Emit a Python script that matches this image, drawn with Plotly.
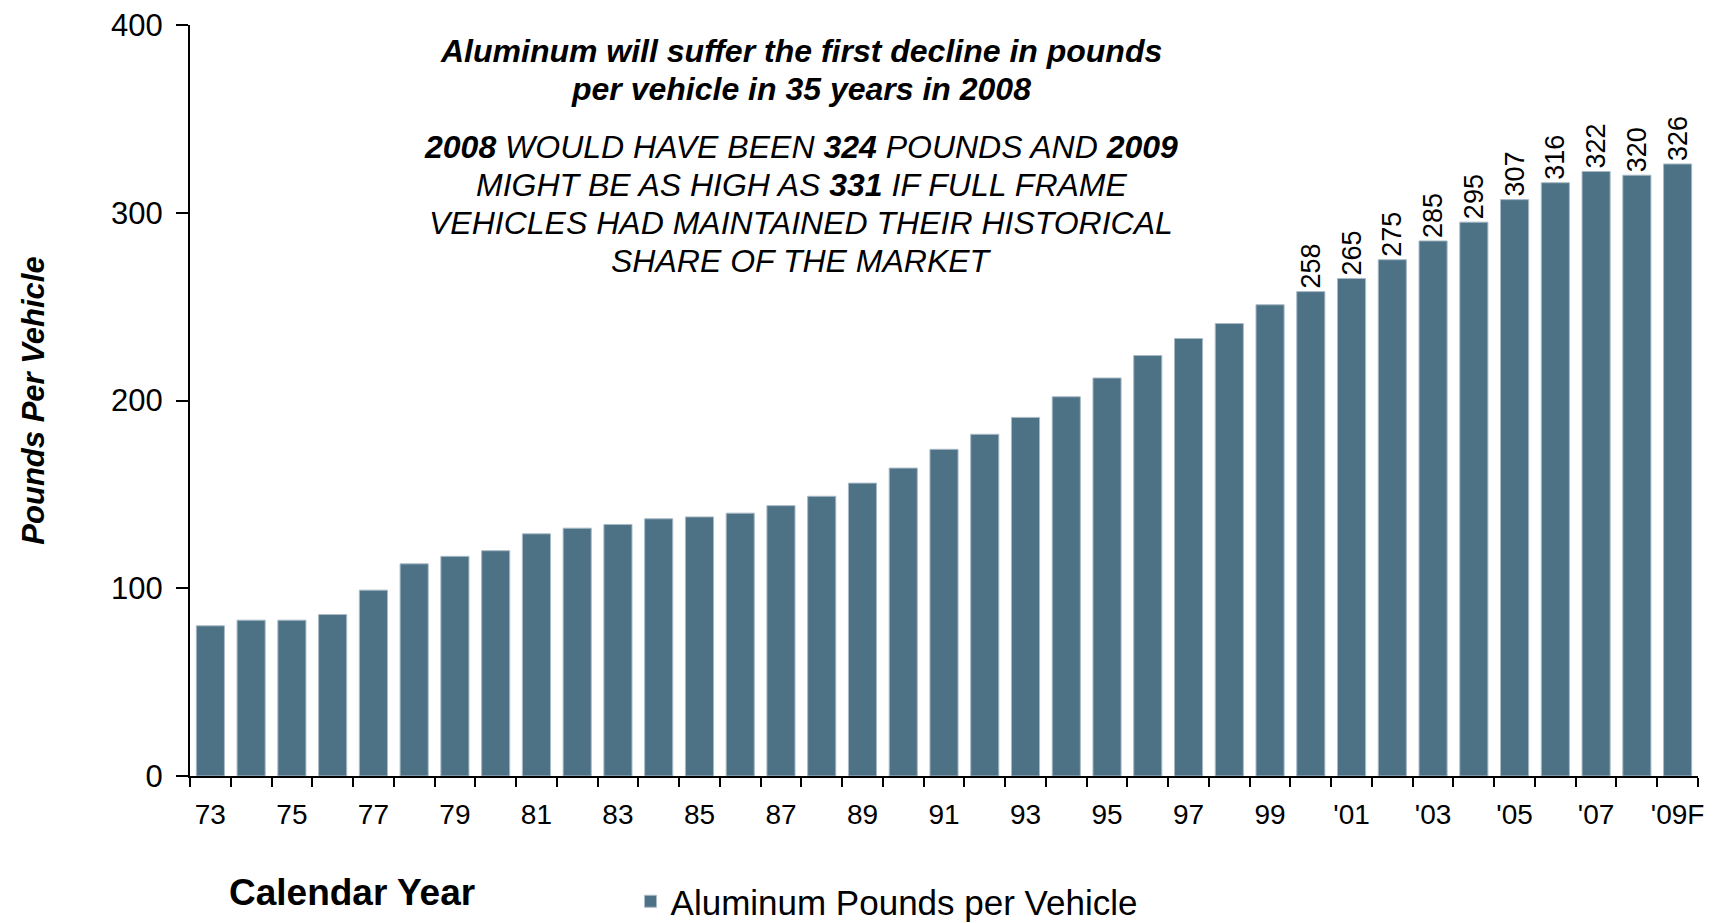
import plotly.graph_objects as go

# ---- data ----
years = ["73", "74", "75", "76", "77", "78", "79", "80", "81", "82",
         "83", "84", "85", "86", "87", "88", "89", "90", "91", "92",
         "93", "94", "95", "96", "97", "98", "99", "'00", "'01", "'02",
         "'03", "'04", "'05", "'06", "'07", "'08", "'09F"]
pounds = [80, 83, 83, 86, 99, 113, 117, 120, 129, 132,
          134, 137, 138, 140, 144, 149, 156, 164, 174, 182,
          191, 202, 212, 224, 233, 241, 251, 258, 265, 275,
          285, 295, 307, 316, 322, 320, 326]
shown_ticks = ["73", "75", "77", "79", "81", "83", "85", "87", "89", "91",
               "93", "95", "97", "99", "'01", "'03", "'05", "'07", "'09F"]
labeled_years = ["'00", "'01", "'02", "'03", "'04", "'05", "'06", "'07", "'08", "'09F"]
y_ticks = [0, 100, 200, 300, 400]

series_name = "Aluminum Pounds per Vehicle"
title_lines = ["<b>Aluminum will suffer the first decline in pounds</b>",
               "<b>per vehicle in 35 years in 2008</b>"]
note_lines = ["<b>2008</b> WOULD HAVE BEEN <b>324</b> POUNDS AND <b>2009</b>",
              "MIGHT BE AS HIGH AS <b>331</b> IF FULL FRAME",
              "VEHICLES HAD MAINTAINED THEIR HISTORICAL",
              "SHARE OF THE MARKET"]

FONT = "Liberation Sans, Arial, Helvetica, sans-serif"
BAR = "#4E7285"

bar_text = [str(v) if y in labeled_years else "" for y, v in zip(years, pounds)]
tick_text = [y if y in shown_ticks else "" for y in years]

fig = go.Figure()
fig.add_trace(go.Bar(
    x=years, y=pounds, name=series_name,
    marker=dict(color=BAR, line=dict(color="#A9BBC7", width=1)),
    text=bar_text, textposition="outside", textangle=-90,
    textfont=dict(family=FONT, size=27, color="black"),
    constraintext="none", cliponaxis=False, showlegend=True,
))

annotations = []
title_y = [0.965, 0.915]
note_y = [0.8374, 0.7872, 0.736, 0.6856]
for txt, yy in zip(title_lines, title_y):
    annotations.append(dict(text=txt, x=0.4054, y=yy, xref="paper", yref="paper",
                            xanchor="center", yanchor="middle", showarrow=False,
                            font=dict(family=FONT, size=32, color="black", style="italic")))
for txt, yy in zip(note_lines, note_y):
    annotations.append(dict(text=txt, x=0.4054, y=yy, xref="paper", yref="paper",
                            xanchor="center", yanchor="middle", showarrow=False,
                            font=dict(family=FONT, size=32, color="black", style="italic")))
annotations.append(dict(text="<b>Calendar Year</b>", x=0.1075, y=-0.155,
                        xref="paper", yref="paper", xanchor="center", yanchor="middle",
                        showarrow=False, font=dict(family=FONT, size=37, color="black")))

fig.update_layout(
    width=1715, height=923,
    margin=dict(l=182, r=25, t=17, b=155, autoexpand=False),
    plot_bgcolor="white", paper_bgcolor="white",
    bargap=0.31,
    font=dict(family=FONT, color="black"),
    annotations=annotations,
    showlegend=True,
    legend=dict(orientation="h", xref="container", yref="container",
                x=0.363, y=0.0, xanchor="left", yanchor="bottom",
                font=dict(family=FONT, size=35, color="black"),
                bgcolor="rgba(0,0,0,0)"),
    xaxis=dict(
        type="category", tickmode="array", tickvals=years, ticktext=tick_text,
        tickson="boundaries", ticks="outside", ticklen=9, tickwidth=2,
        tickcolor="black", showline=True, linecolor="black", linewidth=2,
        showgrid=False, tickfont=dict(family=FONT, size=28, color="black"),
        tickangle=0, automargin=False, ticklabeloverflow="allow",
        ticklabelstandoff=12, range=[-0.5, len(years) - 0.5],
    ),
    yaxis=dict(
        range=[0, 400], tickmode="array", tickvals=y_ticks,
        ticks="outside", ticklen=12, tickwidth=2, tickcolor="black",
        showline=True, linecolor="black", linewidth=2, showgrid=False,
        zeroline=False, tickfont=dict(family=FONT, size=31, color="black"),
        ticklabelstandoff=7, automargin=False, ticklabeloverflow="allow",
        title=dict(text="<b><i>Pounds Per Vehicle</i></b>", standoff=57,
                   font=dict(family=FONT, size=31, color="black")),
    ),
)

fig.write_html("out.html")
